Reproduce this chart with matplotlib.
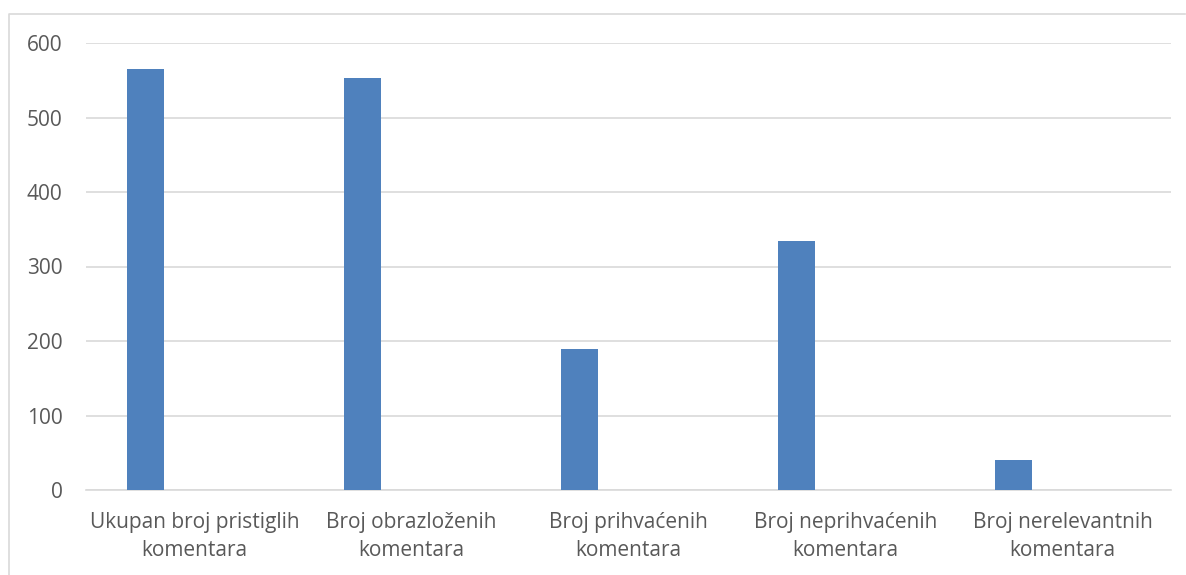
import numpy as np
from matplotlib import pyplot as plt
from matplotlib.lines import Line2D

kategorije = ["Ukupan broj pristiglih\nkomentara",
              "Broj obrazloženih\nkomentara",
              "Broj prihvaćenih\nkomentara",
              "Broj neprihvaćenih\nkomentara",
              "Broj nerelevantnih\nkomentara"]
vrijednosti = [565, 553, 189, 334, 40]
yTicks = [0, 100, 200, 300, 400, 500, 600]

plt.rcParams['font.family'] = ['Open Sans', 'DejaVu Sans']

W, H = 1186, 575
fig = plt.figure(figsize=(W / 100, H / 100), dpi=100)
ax = fig.add_axes([86 / W, 1 - 490 / H, (1171 - 86) / W, (490 - 43) / H])

x = np.arange(len(kategorije))
ax.bar(x - 0.226, vrijednosti, width=0.17, color="#4f81bd", zorder=3)

ax.set_xlim(-0.5, len(kategorije) - 0.5)
ax.set_ylim(0, 600)
ax.set_yticks(yTicks)
ax.set_xticks(x)
ax.set_xticklabels(kategorije, fontsize=15, color="#595959", linespacing=1.45)
ax.tick_params(axis="y", labelsize=15, labelcolor="#595959", length=0, pad=17)
ax.tick_params(axis="x", length=0, pad=16)

ax.grid(axis="y", color="#d9d9d9", linewidth=1.2, zorder=0)
for lado in ["top", "right", "left"]:
    ax.spines[lado].set_visible(False)
ax.spines["bottom"].set_color("#d9d9d9")
ax.spines["bottom"].set_linewidth(1.2)

# okvir oko grafikona
fig.add_artist(Line2D([9 / W, 9 / W, 1185 / W], [0, 1 - 14 / H, 1 - 14 / H],
                      transform=fig.transFigure, color="#d9d9d9", linewidth=1.2))

plt.savefig("out.png", dpi=100)
plt.close()
